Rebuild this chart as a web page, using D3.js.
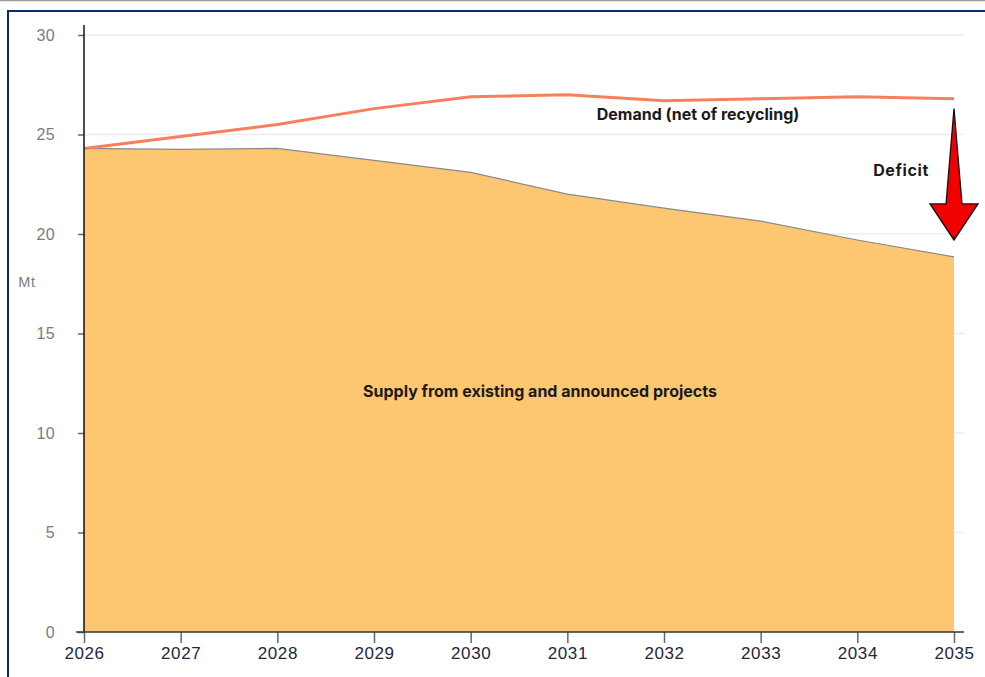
<!DOCTYPE html>
<html>
<head>
<meta charset="utf-8">
<script src="https://cdn.jsdelivr.net/npm/d3@7/dist/d3.min.js"></script>
<style>
  html, body { margin: 0; padding: 0; background: #fff; }
  svg { display: block; }
</style>
</head>
<body>
<svg id="chart" width="985" height="677"></svg>
<script>
// Years on the horizontal axis
const years = [2026, 2027, 2028, 2029, 2030, 2031, 2032, 2033, 2034, 2035];
// Supply from existing and announced projects (Mt)
const supply = [24.3, 24.25, 24.3, 23.7, 23.1, 22.0, 21.3, 20.65, 19.7, 18.85];
// Demand net of recycling (Mt)
const demand = [24.3, 24.9, 25.5, 26.3, 26.9, 27.0, 26.7, 26.8, 26.9, 26.8];
// Y-axis ticks
const yTicks = [0, 5, 10, 15, 20, 25, 30];
// Deficit arrow span (Mt), drawn at the last year
const deficitSpan = [26.3, 19.7];

const svg = d3.select("#chart");
const W = 985, H = 677;

const x = d3.scaleLinear().domain([2026, 2035]).range([84, 954]);
const y = d3.scaleLinear().domain([0, 30]).range([632, 35]);

// Outer frame
svg.append("line").attr("x1", 0).attr("x2", W).attr("y1", 0.5).attr("y2", 0.5)
  .attr("stroke", "#9a9a9a").attr("stroke-width", 1.5);
svg.append("rect").attr("x", 8).attr("y", 11).attr("width", W + 10).attr("height", H)
  .attr("fill", "none").attr("stroke", "#0b2a6e").attr("stroke-width", 2);

// Gridlines
svg.append("g").selectAll("line").data(yTicks.filter(d => d > 0)).join("line")
  .attr("x1", 84).attr("x2", 964)
  .attr("y1", d => y(d)).attr("y2", d => y(d))
  .attr("stroke", "#ececec").attr("stroke-width", 1.5);

// Supply area
const rows = years.map((yr, i) => ({ yr, s: supply[i], d: demand[i] }));
svg.append("path").datum(rows)
  .attr("fill", "#fdc772")
  .attr("d", d3.area().x(d => x(d.yr)).y0(y(0)).y1(d => y(d.s)));
svg.append("path").datum(rows)
  .attr("fill", "none").attr("stroke", "#8a8a8a").attr("stroke-width", 1.2)
  .attr("d", d3.line().x(d => x(d.yr)).y(d => y(d.s)));

// Demand line
svg.append("path").datum(rows)
  .attr("fill", "none").attr("stroke", "#f7805c").attr("stroke-width", 3)
  .attr("d", d3.line().x(d => x(d.yr)).y(d => y(d.d)));

// Y axis
const yAxis = svg.append("g").attr("transform", "translate(84,0)")
  .call(d3.axisLeft(y).tickValues(yTicks).tickSize(6).tickPadding(23));
yAxis.select(".domain").remove();
yAxis.append("line").attr("x1", 0).attr("x2", 0).attr("y1", 25).attr("y2", y(0))
  .attr("stroke", "#111").attr("stroke-width", 1.5);
yAxis.selectAll(".tick line").attr("stroke", "#666").attr("stroke-width", 1.5);
yAxis.selectAll(".tick text").attr("fill", "#7a7a80")
  .attr("font-family", "Liberation Sans, Arial, sans-serif").attr("font-size", 16)
  .attr("letter-spacing", 0.3);

// X axis
const xAxis = svg.append("g").attr("transform", `translate(0,${y(0)})`)
  .call(d3.axisBottom(x).tickValues(years).tickFormat(d3.format("d")).tickSize(11).tickPadding(4));
xAxis.select(".domain").remove();
xAxis.append("line").attr("x1", 76).attr("x2", 964).attr("y1", 0).attr("y2", 0)
  .attr("stroke", "#333").attr("stroke-width", 1.5);
xAxis.selectAll(".tick line").attr("stroke", "#666").attr("stroke-width", 1.5);
xAxis.selectAll(".tick text").attr("fill", "#1d2740")
  .attr("font-family", "Liberation Sans, Arial, sans-serif").attr("font-size", 17)
  .attr("letter-spacing", 0.6);

// Unit label
svg.append("text").attr("x", 27).attr("y", 287).attr("text-anchor", "middle")
  .attr("fill", "#7a7a80").attr("font-family", "Liberation Sans, Arial, sans-serif")
  .attr("font-size", 14.5).attr("letter-spacing", 0.8).text("Mt");

// Series labels
const lab = (tx, ty, t) => svg.append("text")
  .attr("x", tx).attr("y", ty).attr("text-anchor", "middle")
  .attr("fill", "#1a1a1a").attr("font-family", "Inter, Liberation Sans, sans-serif")
  .attr("font-weight", 700).attr("font-size", 16).text(t);
lab(698, 120, "Demand (net of recycling)");
lab(901, 176, "Deficit").attr("letter-spacing", 0.6);
lab(540, 397, "Supply from existing and announced projects");

// Deficit arrow
const ax = x(2035);
const arrowTop = y(deficitSpan[0]), arrowTip = y(deficitSpan[1]);
const headBase = arrowTip - 36;
const arrow = d3.path();
arrow.moveTo(ax, arrowTop);
arrow.lineTo(ax + 8, headBase);
arrow.lineTo(ax + 24, headBase);
arrow.lineTo(ax, arrowTip);
arrow.lineTo(ax - 24, headBase);
arrow.lineTo(ax - 8, headBase);
arrow.closePath();
svg.append("path").attr("d", arrow.toString())
  .attr("fill", "#f20000").attr("stroke", "#111").attr("stroke-width", 1.3)
  .attr("stroke-linejoin", "miter");
</script>
</body>
</html>
